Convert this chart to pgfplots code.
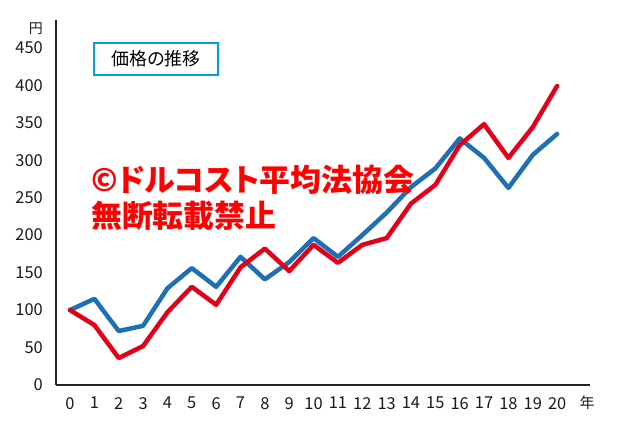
\documentclass[border=0pt]{standalone}
\usepackage{pgfplots}
\pgfplotsset{compat=1.18}
\usepackage{fontspec}
\setmainfont{Noto Sans CJK JP}
\newfontfamily\wmfont[RawFeature=+palt]{Noto Sans CJK JP}
\definecolor{lblue}{RGB}{30,111,180}
\definecolor{lred}{RGB}{228,0,24}
\definecolor{wmred}{RGB}{255,0,0}
\definecolor{boxblue}{RGB}{0,160,233}
\pgfplotstableread{
x blue red
0 100 100
1 115 80
2 72 36
3 79 52
4 129 97
5 156 131
6 131 107
7 171 157
8 141 182
9 164 152
10 196 187
11 171 163
12 200 187
13 230 196
14 264 242
15 289 267
16 329 320
17 303 348
18 263 303
19 307 344
20 335 399
}\datatable
\begin{document}
\begin{tikzpicture}
\useasboundingbox (0,0) rectangle (628bp,-429bp);
\begin{axis}[
  at={(56bp,-385bp)}, anchor=south west,
  scale only axis, width=534bp, height=365bp,
  xmin=-0.575, xmax=21.35, ymin=0, ymax=487,
  axis x line*=bottom, axis y line*=left,
  axis line style={-, line width=1.4bp, black!85},
  xtick={0,...,20}, ytick={0,50,...,450},
  major tick length=0pt,
  /pgf/number format/assume math mode=true,
  ticklabel style={font=\fontsize{16.5}{18}\selectfont, text=black!90, inner sep=0pt},
  yticklabel style={anchor=east, xshift=-13bp},
  xticklabel style={anchor=north, yshift=-12bp},
  clip=false,
]
\addplot[lblue, line width=4.5bp, line join=round, line cap=round] table[x=x,y=blue] {\datatable};
\addplot[lred, line width=4.5bp, line join=round, line cap=round] table[x=x,y=red] {\datatable};
\end{axis}
\node[anchor=east, inner sep=0pt, font=\fontsize{14}{16}\selectfont, text=black!90] at (43bp,-29bp) {円};
\node[inner sep=0pt, font=\fontsize{15}{17}\selectfont, text=black!90] at (587bp,-403bp) {年};
\node[draw=boxblue, line width=1.5bp, minimum width=124bp, minimum height=32bp, inner sep=0pt, font=\fontsize{18}{20}\selectfont] at (156bp,-59bp) {価格の推移};
\node[anchor=west, inner sep=0pt, text=wmred, font=\wmfont\fontsize{31}{34}\bfseries\selectfont] at (91bp,-180bp) {©ドルコスト平均法協会};
\node[anchor=west, inner sep=0pt, text=wmred, font=\wmfont\fontsize{31}{34}\bfseries\selectfont] at (91bp,-216bp) {無断転載禁止};
\end{tikzpicture}
\end{document}
